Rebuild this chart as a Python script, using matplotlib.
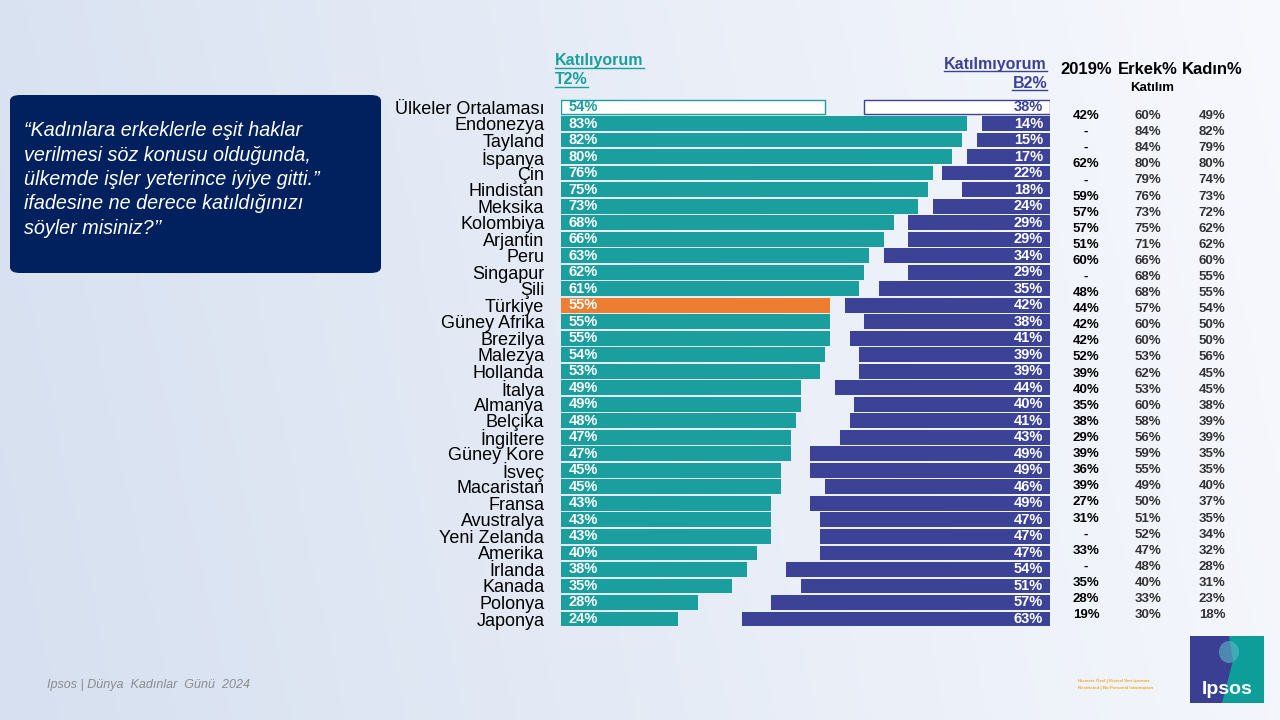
import matplotlib
matplotlib.use("Agg")
import matplotlib.pyplot as plt
import numpy as np
from matplotlib.patches import FancyBboxPatch, Rectangle, Polygon, Ellipse
from matplotlib.lines import Line2D

plt.rcParams['font.family'] = ['Liberation Sans', 'DejaVu Sans']

# ---- data ----
countries = ["Ülkeler Ortalaması", "Endonezya", "Tayland", "İspanya", "Çin", "Hindistan",
             "Meksika", "Kolombiya", "Arjantin", "Peru", "Singapur", "Şili", "Türkiye",
             "Güney Afrika", "Brezilya", "Malezya", "Hollanda", "İtalya", "Almanya",
             "Belçika", "İngiltere", "Güney Kore", "İsveç", "Macaristan", "Fransa",
             "Avustralya", "Yeni Zelanda", "Amerika", "İrlanda", "Kanada", "Polonya", "Japonya"]
t2 = [54, 83, 82, 80, 76, 75, 73, 68, 66, 63, 62, 61, 55, 55, 55, 54, 53, 49, 49, 48,
      47, 47, 45, 45, 43, 43, 43, 40, 38, 35, 28, 24]
b2 = [38, 14, 15, 17, 22, 18, 24, 29, 29, 34, 29, 35, 42, 38, 41, 39, 39, 44, 40, 41,
      43, 49, 49, 46, 49, 47, 47, 47, 54, 51, 57, 63]

col_2019 = ["42%", "-", "-", "62%", "-", "59%", "57%", "57%", "51%", "60%", "-", "48%",
            "44%", "42%", "42%", "52%", "39%", "40%", "35%", "38%", "29%", "39%", "36%",
            "39%", "27%", "31%", "-", "33%", "-", "35%", "28%", "19%"]
col_erkek = ["60%", "84%", "84%", "80%", "79%", "76%", "73%", "75%", "71%", "66%", "68%",
             "68%", "57%", "60%", "60%", "53%", "62%", "53%", "60%", "58%", "56%", "59%",
             "55%", "49%", "50%", "51%", "52%", "47%", "48%", "40%", "33%", "30%"]
col_kadin = ["49%", "82%", "79%", "80%", "74%", "73%", "72%", "62%", "62%", "60%", "55%",
             "55%", "54%", "50%", "50%", "56%", "45%", "45%", "38%", "39%", "39%", "35%",
             "35%", "40%", "37%", "35%", "34%", "32%", "28%", "31%", "23%", "18%"]

TEAL = "#1A9E9E"
NAVY = "#3C4397"
ORANGE = "#ED7D31"
BOX = "#00215E"

W, H = 1280, 720
fig = plt.figure(figsize=(12.8, 7.2), dpi=100)


def fx(x):
    return x / W


def fy(y):
    return 1 - y / H


# background gradient
bg = fig.add_axes([0, 0, 1, 1])
gx = np.linspace(0, 1, 256)
gy = np.linspace(0, 1, 128)
XX, YY = np.meshgrid(gx, gy)
c0 = np.array([214, 224, 240]) / 255
c1 = np.array([249, 250, 254]) / 255
t = np.clip(XX * 0.85 + (1 - YY) * 0.1, 0, 1)[..., None]
img = c0 * (1 - t) + c1 * t
bg.imshow(img, aspect='auto', extent=[0, 1, 0, 1], origin='upper')
bg.set_xlim(0, 1)
bg.set_ylim(0, 1)
bg.axis('off')

# question box
box = FancyBboxPatch((fx(10), fy(273)), fx(371), (273 - 95) / H,
                     boxstyle="round,pad=0,rounding_size=0.008",
                     transform=fig.transFigure, facecolor=BOX, edgecolor='none')
fig.add_artist(box)
q_lines = ["“Kadınlara erkeklerle eşit haklar",
           "verilmesi söz konusu olduğunda,",
           "ülkemde işler yeterince iyiye gitti.”",
           "ifadesine ne derece katıldığınızı",
           "söyler misiniz?’’"]
for i, ln in enumerate(q_lines):
    fig.text(fx(24), fy(131 + 24.3 * i), ln, color='white', fontsize=14.2,
             style='italic', va='center', ha='left')

# main bars
n = len(countries)
row_top, row_bot = 107, 619
step = (row_bot - row_top) / (n - 1)
ax_top = row_top - step / 2
ax_bot = row_bot + step / 2
ax = fig.add_axes([fx(561), fy(ax_bot), (1050 - 561) / W, (ax_bot - ax_top) / H])
ax.patch.set_alpha(0)
ypos = np.arange(n)
for i in range(n):
    if i == 0:
        ax.barh(i, t2[i], height=0.88, left=0, color='white', edgecolor=TEAL, linewidth=1)
        ax.barh(i, b2[i], height=0.88, left=100 - b2[i], color='white', edgecolor=NAVY, linewidth=1)
        lc, rc = TEAL, NAVY
    else:
        col = ORANGE if countries[i] == "Türkiye" else TEAL
        ax.barh(i, t2[i], height=0.9, left=0, color=col, edgecolor='none')
        ax.barh(i, b2[i], height=0.9, left=100 - b2[i], color=NAVY, edgecolor='none')
        lc, rc = 'white', 'white'
    ax.text(1.6, i, f"{t2[i]}%", color=lc, fontsize=10.5, fontweight='bold', va='center', ha='left')
    ax.text(98.6, i, f"{b2[i]}%", color=rc, fontsize=10.5, fontweight='bold', va='center', ha='right')
ax.set_xlim(0, 100)
ax.set_ylim(n - 0.5, -0.5)
ax.set_yticks(ypos)
ax.set_yticklabels(countries, fontsize=13)
ax.tick_params(axis='y', length=0, pad=12)
ax.set_xticks([])
for s in ax.spines.values():
    s.set_visible(False)

# headers with underline
fig.canvas.draw()
renderer = fig.canvas.get_renderer()


def underlined(x, y, s, color, ha):
    tx = fig.text(fx(x), fy(y), s, color=color, fontsize=11.5, fontweight='bold', ha=ha, va='center')
    bb = tx.get_window_extent(renderer=renderer)
    yl = bb.y0 + 1
    fig.add_artist(Line2D([bb.x0 / W, bb.x1 / W], [yl / H, yl / H], color=color, lw=1.0,
                          transform=fig.transFigure))


underlined(555, 61, "Katılıyorum", TEAL, 'left')
underlined(555, 80, "T2%", TEAL, 'left')
underlined(1047, 64, "Katılmıyorum", NAVY, 'right')
underlined(1047, 83, "B2%", NAVY, 'right')

# side table
col_x = [1086, 1148, 1212]
fig.text(fx(col_x[0]), fy(69), "2019%", fontsize=12, fontweight='bold', ha='center', va='center', color='black')
fig.text(fx(col_x[1]), fy(69), "Erkek%", fontsize=12, fontweight='bold', ha='center', va='center', color='black')
fig.text(fx(col_x[2]), fy(69), "Kadın%", fontsize=12, fontweight='bold', ha='center', va='center', color='black')
fig.text(fx(1152), fy(88), "Katılım", fontsize=9.5, fontweight='bold', ha='center', va='center', color='black')
for i in range(len(col_2019)):
    yy = fy(116 + 16.1 * i)
    fig.text(fx(col_x[0]), yy, col_2019[i], fontsize=9.5, fontweight='bold', ha='center', va='center', color='black')
    fig.text(fx(col_x[1]), yy, col_erkek[i], fontsize=9.5, fontweight='bold', ha='center', va='center', color='#333333')
    fig.text(fx(col_x[2]), yy, col_kadin[i], fontsize=9.5, fontweight='bold', ha='center', va='center', color='#333333')

# footer
fig.text(fx(47), fy(685), "Ipsos | Dünya  Kadınlar  Günü  2024", fontsize=9, style='italic',
         color='#8C8C8C', ha='left', va='center')
fig.text(fx(1078), fy(681), "Hizmete Özel | Kişisel Veri İçermez", fontsize=3.2, color='#F5A623',
         ha='left', va='center', fontweight='bold')
fig.text(fx(1078), fy(688), "Restricted | No Personal Information", fontsize=3.2, color='#F5A623',
         ha='left', va='center', fontweight='bold')

# Ipsos logo
fig.add_artist(Rectangle((fx(1190), fy(703)), 74 / W, 67 / H, transform=fig.transFigure,
                         facecolor='#3B3F94', edgecolor='none'))
fig.add_artist(Polygon([(fx(1229), fy(636)), (fx(1264), fy(636)), (fx(1264), fy(703)),
                        (fx(1222), fy(703)), (fx(1228), fy(680)), (fx(1233), fy(660))],
                       closed=True, transform=fig.transFigure, facecolor='#0E9E9A', edgecolor='none'))
fig.add_artist(Ellipse((fx(1229), fy(652)), 20 / W, 22 / H, transform=fig.transFigure,
                       facecolor='#5DB8C8', edgecolor='none', alpha=0.6))
fig.text(fx(1227), fy(689), "Ipsos", fontsize=14, fontweight='bold', color='white', ha='center', va='center')

fig.savefig("out.png", dpi=100)
